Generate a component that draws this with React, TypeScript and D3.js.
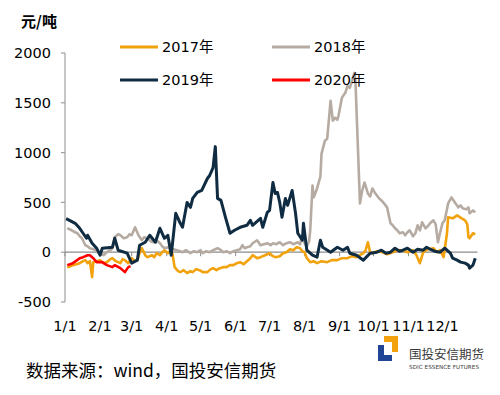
import React from "react";
import * as d3 from "d3";

// day of year (0 = 1/1) and spread values
const days2017 = [2, 5, 7, 10, 13, 16, 18, 20, 22, 24, 25, 28, 31, 34, 37, 40, 42, 45, 49, 51, 53, 56, 59, 62, 64, 66, 68, 71, 73, 77, 79, 81, 84, 86, 88, 91, 93, 95, 97, 100, 102, 105, 108, 111, 113, 116, 119, 122, 126, 129, 131, 134, 137, 140, 143, 146, 149, 152, 155, 158, 161, 164, 166, 170, 173, 177, 181, 184, 186, 190, 193, 196, 199, 202, 205, 208, 210, 212, 214, 217, 220, 223, 227, 232, 236, 241, 245, 250, 254, 258, 261, 264, 266, 268, 270, 272, 276, 281, 285, 290, 294, 299, 303, 308, 311, 314, 317, 321, 326, 329, 332, 335, 338, 339, 343, 347, 351, 354, 356, 357, 358, 361, 363];
const vals2017 = [-150, -140, -130, -120, -110, -90, -80, -110, -90, -250, -100, -90, -80, -110, -100, -70, -60, -90, -110, -70, -80, -110, -60, -90, -80, -10, 40, -30, -50, -30, -50, -10, -30, 0, 20, -10, 10, -10, -150, -190, -200, -180, -210, -190, -200, -170, -180, -200, -200, -170, -160, -180, -160, -150, -150, -130, -130, -110, -100, -120, -90, -60, -30, -60, -50, -30, -10, -40, -50, -40, -10, 0, 30, 20, 50, 40, 10, 0, -60, -100, -90, -110, -90, -100, -80, -80, -60, -60, -40, -50, -30, -10, 20, 100, 0, -10, 10, 0, -20, 0, 20, 20, 0, 20, -30, -110, 0, 30, 40, 0, 20, -50, 190, 350, 340, 370, 340, 320, 280, 150, 140, 190, 180];

const days2018 = [2, 4, 6, 9, 11, 13, 15, 18, 20, 22, 25, 27, 29, 31, 34, 37, 40, 42, 44, 47, 49, 52, 55, 57, 59, 62, 65, 68, 70, 73, 76, 78, 81, 84, 86, 88, 91, 93, 96, 99, 102, 104, 107, 111, 114, 117, 120, 122, 125, 128, 131, 135, 138, 140, 143, 146, 149, 152, 155, 157, 159, 161, 164, 166, 170, 173, 176, 179, 182, 184, 187, 190, 193, 196, 199, 202, 204, 206, 208, 210, 212, 214, 216, 217, 219, 220, 223, 226, 227, 230, 232, 235, 237, 239, 241, 242, 245, 248, 250, 252, 254, 256, 257, 261, 263, 265, 268, 270, 272, 274, 276, 278, 280, 283, 285, 288, 290, 292, 294, 296, 299, 301, 303, 305, 308, 310, 312, 314, 316, 319, 321, 323, 326, 328, 330, 332, 334, 336, 339, 342, 345, 348, 350, 352, 355, 357, 358, 361, 363];
const vals2018 = [240, 230, 220, 200, 190, 160, 140, 70, 60, 40, 30, 20, 0, -10, -30, 0, 20, 40, 150, 180, 170, 140, 150, 180, 170, 250, 170, 120, 150, 140, 110, 100, 120, 90, 60, 40, 50, 40, 30, 20, 10, 0, 20, -10, 10, 0, 20, -10, 10, 0, 20, 40, 20, 0, 10, -10, 10, 20, 30, 70, 40, 50, 60, 90, 120, 70, 80, 90, 70, 90, 80, 100, 70, 90, 100, 80, 90, 100, 80, 170, 90, 60, 110, 220, 670, 550, 640, 760, 990, 1120, 1140, 1520, 1320, 1350, 1330, 1370, 1550, 1600, 1670, 1650, 1720, 1800, 1720, 490, 620, 700, 590, 560, 640, 600, 570, 540, 520, 480, 450, 290, 270, 240, 220, 190, 200, 170, 200, 220, 160, 190, 270, 220, 300, 240, 260, 290, 320, 280, 100, 200, 290, 320, 490, 550, 500, 450, 470, 440, 430, 450, 390, 420, 400];

const days2019 = [1, 4, 9, 13, 16, 19, 20, 24, 28, 31, 33, 42, 44, 47, 55, 59, 64, 66, 71, 75, 80, 84, 88, 91, 94, 98, 102, 104, 108, 111, 113, 117, 121, 126, 128, 131, 133, 135, 138, 142, 146, 150, 155, 161, 164, 166, 173, 175, 179, 181, 184, 186, 188, 190, 192, 195, 197, 201, 204, 206, 210, 211, 214, 219, 223, 226, 228, 235, 241, 246, 250, 252, 258, 264, 270, 276, 280, 284, 288, 292, 296, 299, 303, 308, 312, 317, 320, 323, 327, 332, 336, 341, 343, 347, 350, 354, 357, 358, 361, 363];
const vals2019 = [337, 320, 290, 240, 190, 140, 170, 90, 40, -30, 40, 50, 140, 20, -10, -110, -80, 70, 100, 170, 100, 240, 140, 170, -30, 390, 290, 250, 500, 450, 540, 600, 620, 740, 770, 850, 1060, 540, 520, 350, 190, 220, 250, 270, 320, 270, 340, 250, 400, 420, 700, 590, 600, 500, 350, 540, 470, 620, 390, 190, 120, 290, 20, -30, -50, 120, 50, 0, 50, 20, 50, -10, -30, -80, -10, 0, 20, -10, 0, 40, 10, 20, 40, 0, 30, 20, 50, 30, 10, 0, 40, -10, -60, -80, -100, -110, -130, -160, -130, -60];

const days2020 = [2, 7, 13, 16, 20, 22, 25, 28, 33, 37, 42, 44, 49, 51, 53, 56, 58];
const vals2020 = [-130, -110, -60, -50, -30, -30, -60, -100, -100, -130, -150, -130, -160, -180, -200, -150, -140];

const monthStarts = [0, 31, 59, 90, 120, 151, 181, 212, 243, 273, 304, 334];
const monthLabels = ["1/1", "2/1", "3/1", "4/1", "5/1", "6/1", "7/1", "8/1", "9/1", "10/1", "11/1", "12/1"];
const yTicks = [-500, 0, 500, 1000, 1500, 2000];

const series = [
  { name: "2017年", days: days2017, vals: vals2017, color: "#f2a20c" },
  { name: "2018年", days: days2018, vals: vals2018, color: "#b6aba2" },
  { name: "2019年", days: days2019, vals: vals2019, color: "#0f2c42" },
  { name: "2020年", days: days2020, vals: vals2020, color: "#ff0000" },
];

const font = "'DejaVu Sans', 'Noto Sans CJK SC', sans-serif";
const cjk = "'Noto Sans CJK SC', sans-serif";

export default function App() {
  const x = d3.scaleLinear().domain([0, 365]).range([65, 477.5]);
  const y = d3.scaleLinear().domain([-500, 2000]).range([302, 53]);
  const line = d3
    .line<[number, number]>()
    .x((d) => x(d[0]))
    .y((d) => y(d[1]));

  const legendPos = [
    [120, 47],
    [272, 47],
    [120, 80],
    [272, 80],
  ];

  return (
    <svg width={500} height={395} style={{ position: "absolute", left: 0, top: 0, background: "#fff" }}>
      <text x={39} y={27} textAnchor="middle" fontFamily={cjk} fontWeight="bold" fontSize={15}>
        元/吨
      </text>

      {/* y axis */}
      <line x1={65} x2={65} y1={y(2000)} y2={y(-500)} stroke="#a0a0a0" strokeWidth={1.2} />
      {yTicks.map((t) => (
        <g key={t}>
          <line x1={61} x2={65} y1={y(t)} y2={y(t)} stroke="#a0a0a0" strokeWidth={1.2} />
          <text x={51} y={y(t)} dy="0.36em" textAnchor="end" fontFamily={font} fontSize={14.5}>
            {t}
          </text>
        </g>
      ))}

      {/* zero line with month ticks */}
      <line x1={65} x2={477.5} y1={y(0)} y2={y(0)} stroke="#8c8c8c" strokeWidth={1.2} />
      {monthStarts.map((m) => (
        <line key={m} x1={x(m)} x2={x(m)} y1={y(0)} y2={y(0) + 4} stroke="#8c8c8c" strokeWidth={1} />
      ))}
      {monthStarts.map((m, i) => (
        <text key={m} x={x(m)} y={331} textAnchor="middle" fontFamily={font} fontSize={14.5}>
          {monthLabels[i]}
        </text>
      ))}

      {series.map((s) => (
        <path
          key={s.name}
          d={line(s.days.map((d, i) => [d, s.vals[i]] as [number, number])) || ""}
          fill="none"
          stroke={s.color}
          strokeWidth={s.name === "2019年" ? 3 : 2.6}
          strokeLinejoin="round"
        />
      ))}

      {/* legend */}
      {series.map((s, i) => (
        <g key={s.name}>
          <line
            x1={legendPos[i][0]}
            x2={legendPos[i][0] + 38}
            y1={legendPos[i][1]}
            y2={legendPos[i][1]}
            stroke={s.color}
            strokeWidth={3}
          />
          <text x={legendPos[i][0] + 42} y={legendPos[i][1]} dy="0.36em" fontFamily={font} fontSize={14.5}>
            {s.name}
          </text>
        </g>
      ))}

      <text x={26} y={377} fontFamily={cjk} fontSize={17.5}>
        数据来源：wind，国投安信期货
      </text>

      {/* logo */}
      <path d="M384,336 H398 V352 H392 V342 H384 Z" fill="#f2a20c" />
      <path d="M378,345 H384 V355 H392 V361 H378 Z" fill="#1f4594" />
      <text x={409} y={359} fontFamily={cjk} fontSize={12.5} fill="#3a3a3a">
        国投安信期货
      </text>
      <text x={409} y={369} fontFamily={font} fontSize={5.6} fill="#3a3a3a" textLength={70}>
        SDIC ESSENCE FUTURES
      </text>
    </svg>
  );
}
